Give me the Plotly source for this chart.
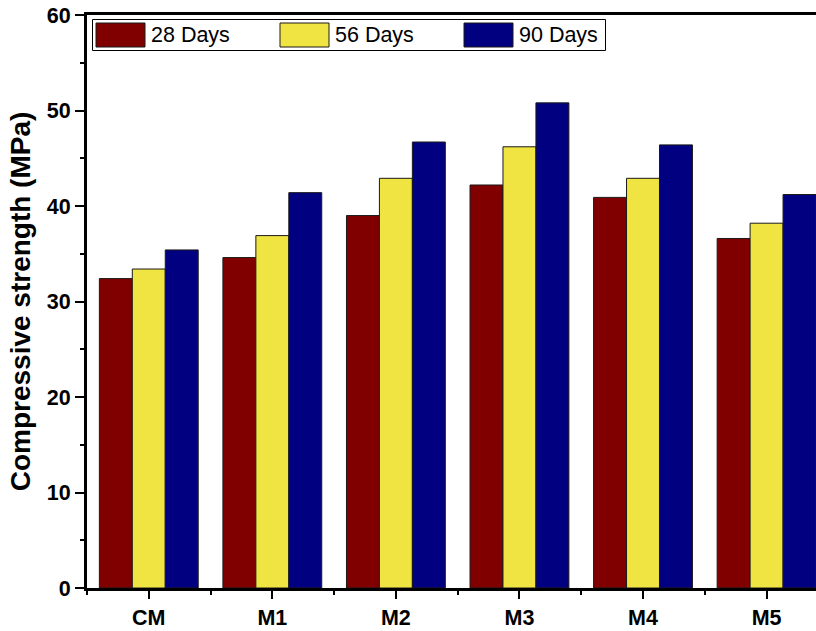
import plotly.graph_objects as go

categories = ["CM", "M1", "M2", "M3", "M4", "M5"]
series_names = ["28 Days", "56 Days", "90 Days"]
days28 = [32.4, 34.6, 39.0, 42.2, 40.9, 36.6]
days56 = [33.4, 36.9, 42.9, 46.2, 42.9, 38.2]
days90 = [35.4, 41.4, 46.7, 50.8, 46.4, 41.2]
y_ticks = [0, 10, 20, 30, 40, 50, 60]

colors = ["#800000", "#F0E442", "#000080"]
FONT = "Liberation Sans, Arial, sans-serif"

W, H = 816, 631
ML, MR, MT, MB = 87, 0, 15, 43
PW, PH = W - ML - MR, H - MT - MB

xpos = list(range(len(categories)))
fig = go.Figure()
for name, vals, col in zip(series_names, [days28, days56, days90], colors):
    fig.add_trace(go.Bar(
        x=xpos, y=vals, name=name, showlegend=False,
        marker=dict(color=col, line=dict(color="#1a1a1a", width=1)),
    ))

def px2paper(x, y):
    return (x - ML) / PW, (H - MB - y) / PH

# custom legend (box, swatches, labels)
shapes = []
annotations = []
bx0, by0 = px2paper(92.5, 19.5)
bx1, by1 = px2paper(605.5, 50.5)
shapes.append(dict(type="rect", xref="paper", yref="paper", x0=bx0, y0=by0, x1=bx1, y1=by1,
                   line=dict(color="black", width=1), fillcolor="white", layer="above"))
sw_x = [96, 280, 464]
for sx, name, col in zip(sw_x, series_names, colors):
    x0, y0 = px2paper(sx, 23)
    x1, y1 = px2paper(sx + 49, 47)
    shapes.append(dict(type="rect", xref="paper", yref="paper", x0=x0, y0=y0, x1=x1, y1=y1,
                       line=dict(color="#1a1a1a", width=1), fillcolor=col, layer="above"))
    tx, ty = px2paper(sx + 53, 35)
    annotations.append(dict(xref="paper", yref="paper", x=tx, y=ty, text=name,
                            showarrow=False, xanchor="left", yanchor="middle",
                            font=dict(family=FONT, size=21.5, color="black")))

fig.update_layout(
    width=W, height=H,
    margin=dict(l=ML, r=MR, t=MT, b=MB, pad=0),
    paper_bgcolor="white", plot_bgcolor="white",
    barmode="group", bargap=0.2, bargroupgap=0,
    shapes=shapes, annotations=annotations,
    showlegend=False,
)
fig.update_xaxes(
    range=[-0.5, 5.4],
    tickmode="array", tickvals=xpos, ticktext=categories,
    showline=True, linecolor="black", linewidth=3, mirror=True,
    ticks="outside", ticklen=8, tickwidth=1.5, tickcolor="black",
    minor=dict(tickmode="linear", tick0=-0.5, dtick=1, ticks="outside", ticklen=4, tickwidth=1.5, tickcolor="black"),
    tickfont=dict(family=FONT, size=21.5, color="black", weight="bold"),
    showgrid=False, zeroline=False,
)
fig.update_yaxes(
    range=[0, 60],
    tickmode="array", tickvals=y_ticks,
    showline=True, linecolor="black", linewidth=3, mirror=False,
    ticks="outside", ticklen=9, tickwidth=1.5, tickcolor="black",
    minor=dict(tickmode="linear", tick0=0, dtick=5, ticks="outside", ticklen=4, tickwidth=1.5, tickcolor="black"),
    tickfont=dict(family=FONT, size=21.5, color="black", weight="bold"),
    title=dict(text="Compressive strength (MPa)", standoff=8,
               font=dict(family=FONT, size=28, color="black", weight="bold")),
    showgrid=False, zeroline=False,
)

fig.write_html("out.html")
